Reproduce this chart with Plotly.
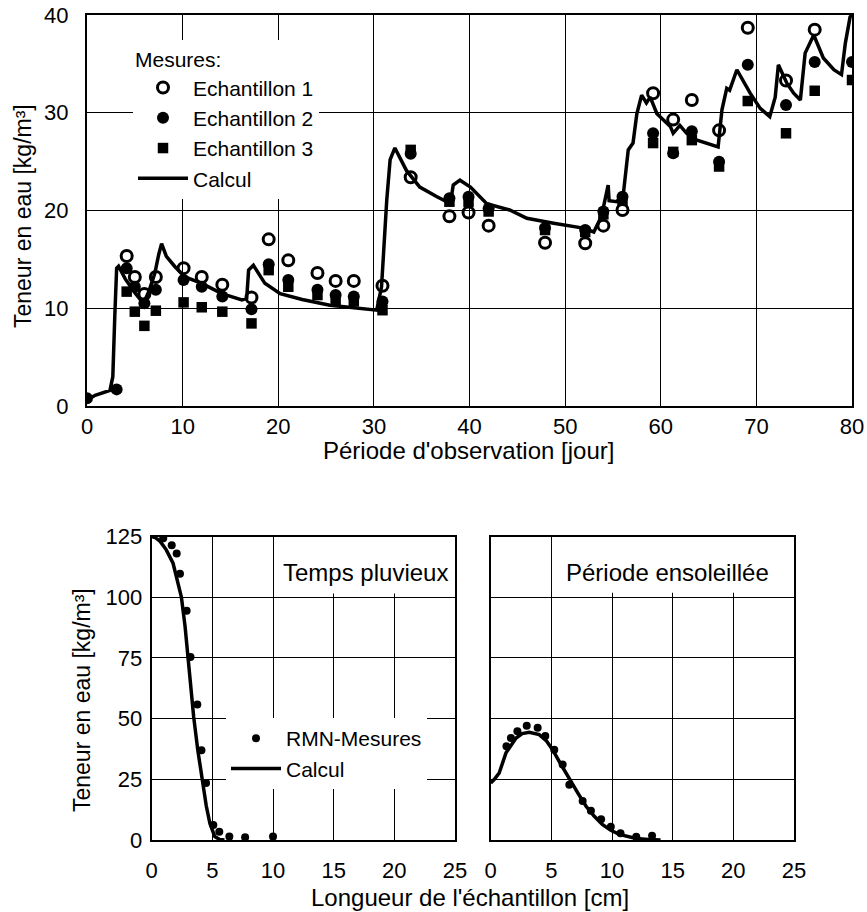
import plotly.graph_objects as go

# ---------------- Top chart data ----------------
calc_x = [0, 0.85, 2.4, 2.7, 2.9, 3.1, 3.3, 4.0, 5.0, 5.9, 6.5, 7.1, 7.5, 7.8, 8.3, 9.2, 10.25, 12.0, 14.1,
          16.2, 16.7, 16.9, 17.4, 18.6, 20.2, 22.5, 25.4, 28.0, 30.3, 30.8, 31.35, 31.7, 32.2, 33.4, 34.8,
          36.6, 38.0, 38.3, 39.0, 40.1, 41.8, 44.2, 46.0, 48.8, 51.9, 53.0, 53.8, 54.5, 54.6, 55.4, 56.1,
          56.6, 57.1, 57.5, 58.0, 58.5, 58.9, 59.6, 61.0, 61.3, 62.0, 62.7, 63.8, 66.0, 66.4, 66.9, 67.2,
          67.96, 69.35, 70.4, 71.4, 71.97, 72.3, 73.2, 73.9, 74.6, 75.1, 76.0, 77.0, 78.1, 78.9, 79.3, 79.8, 80]
calc_y = [0.6, 1.1, 1.6, 3.0, 9.0, 14.1, 14.3, 13.0, 11.6, 10.5, 11.8, 13.6, 15.5, 16.6, 15.3, 14.25, 13.2, 12.55, 11.5,
          10.85, 11.0, 13.9, 14.4, 12.55, 11.5, 10.9, 10.3, 10.0, 9.8, 12.2, 21.1, 25.2, 26.4, 24.1, 22.4,
          21.4, 20.7, 22.6, 23.1, 22.4, 20.7, 20.05, 19.2, 18.7, 18.2, 17.8, 19.4, 22.6, 21.0, 20.9, 21.8,
          26.2, 26.9, 29.9, 31.8, 31.0, 31.6, 29.9, 28.6, 27.9, 28.7, 27.9, 27.2, 26.5, 30.3, 32.5, 32.3,
          34.4, 32.0, 30.45, 29.6, 31.6, 34.9, 33.0, 32.0, 31.3, 36.1, 37.95, 35.6, 34.4, 33.9, 37.1, 39.8, 40.0]

ech_x = [0, 3.1, 4.15, 5.0, 6.0, 7.2, 10.1, 12.0, 14.15, 17.2, 19.0, 21.05, 24.1, 26.0, 27.9, 30.9, 33.85,
         37.9, 39.9, 42.0, 47.9, 52.1, 54.0, 56.0, 59.2, 61.3, 63.25, 66.1, 69.1, 73.1, 76.1, 80]
ech1_y = [None, None, 15.35, 13.2, 11.45, 13.2, 14.1, 13.2, 12.4, 11.1, 17.05, 14.9, 13.6, 12.8, 12.8, 12.3, 23.4,
          19.4, 19.8, 18.45, 16.7, 16.65, 18.45, 20.05, 32.0, 29.3, 31.3, 28.2, 38.7, 33.3, 38.5, None]
ech2_y = [0.8, 1.7, 14.1, 12.2, 10.5, 11.9, 12.9, 12.2, 11.2, 9.9, 14.5, 12.9, 11.9, 11.35, 11.2, 10.7, 25.8,
          21.25, 21.4, 20.2, 18.2, 18.0, 19.9, 21.4, 27.9, 25.85, 28.1, 25.0, 34.9, 30.8, 35.2, 35.2]
ech3_y = [None, None, 11.7, 9.65, 8.2, 9.75, 10.6, 10.1, 9.65, 8.45, 13.9, 12.2, 11.35, 10.85, 10.7, 9.8, 26.2,
          20.9, 20.9, 19.9, 18.0, 17.8, 19.6, 21.0, 26.9, 26.0, 27.2, 24.5, 31.2, 27.9, 32.25, 33.35]

top_xticks = [0, 10, 20, 30, 40, 50, 60, 70, 80]
top_yticks = [0, 10, 20, 30, 40]

# ---------------- Bottom-left (Temps pluvieux) ----------------
rain_calc_x = [0, 0.3, 0.7, 1.2, 1.76, 2.1, 2.45, 2.75, 3.0, 3.25, 3.46, 3.8, 4.1, 4.5, 4.8, 5.2, 5.6, 6.0]
rain_calc_y = [125, 124.5, 123, 119.5, 114, 107, 100, 88, 75, 62, 50.7, 37, 26, 14, 6.8, 1.4, 0.2, 0]
rain_rmn_x = [0.95, 1.65, 2.06, 2.33, 2.88, 3.2, 3.76, 4.1, 4.48, 5.08, 5.57, 6.4, 7.7, 10.0]
rain_rmn_y = [124.3, 121.4, 118.0, 109.7, 94.4, 75.4, 55.8, 37.0, 23.5, 6.2, 3.4, 1.4, 1.1, 1.4]

# ---------------- Bottom-right (Période ensoleillée) ----------------
sun_calc_x = [0, 0.3, 0.7, 1.26, 2.09, 2.6, 3.18, 4.0, 4.6, 5.1, 5.8, 6.5, 7.2, 7.86, 8.5, 9.2, 9.9, 10.6, 12.0, 13.0, 14.0]
sun_calc_y = [23.5, 25, 27.6, 35.9, 42.0, 43.8, 44.4, 43.4, 40.8, 37.2, 31, 24.9, 19.2, 13.9, 10, 6.4, 4, 2.3, 0.6, 0.2, 0]
sun_rmn_x = [1.3, 1.67, 2.2, 2.97, 3.87, 4.5, 5.24, 5.93, 6.48, 7.58, 8.26, 9.1, 9.9, 10.7, 12.0, 13.3]
sun_rmn_y = [38.6, 42.0, 44.8, 47.1, 46.2, 42.8, 37.2, 31.1, 22.8, 16.1, 12.0, 8.5, 5.5, 2.8, 1.3, 1.8]

bot_xticks = [0, 5, 10, 15, 20, 25]
bot_yticks = [0, 25, 50, 75, 100, 125]

FONT = "Arial, Liberation Sans, sans-serif"
FS_TICK = 22
FS_TXT = 24
FS_VT = 23
FS_LEG = 21
W, H = 867, 912


def fx(px):
    return px / W


def fy(py):
    return 1 - py / H


fig = go.Figure()

# top traces
fig.add_trace(go.Scatter(x=calc_x, y=calc_y, mode="lines", name="Calcul", legendrank=4,
                         line=dict(color="black", width=3.5), xaxis="x", yaxis="y"))
fig.add_trace(go.Scatter(x=ech_x, y=ech1_y, mode="markers", name="Echantillon 1", legendrank=1,
                         marker=dict(symbol="circle-open", size=11, color="black", line=dict(width=3, color="black")),
                         xaxis="x", yaxis="y"))
fig.add_trace(go.Scatter(x=ech_x, y=ech2_y, mode="markers", name="Echantillon 2", legendrank=2,
                         marker=dict(symbol="circle", size=12, color="black"), xaxis="x", yaxis="y"))
fig.add_trace(go.Scatter(x=ech_x, y=ech3_y, mode="markers", name="Echantillon 3", legendrank=3,
                         marker=dict(symbol="square", size=10.5, color="black"), xaxis="x", yaxis="y"))

# bottom-left traces
fig.add_trace(go.Scatter(x=rain_calc_x, y=rain_calc_y, mode="lines", name="Calcul", legend="legend2", legendrank=2,
                         line=dict(color="black", width=3.5), xaxis="x2", yaxis="y2"))
fig.add_trace(go.Scatter(x=rain_rmn_x, y=rain_rmn_y, mode="markers", name="RMN-Mesures", legend="legend2", legendrank=1,
                         marker=dict(symbol="circle", size=8, color="black"), xaxis="x2", yaxis="y2"))
# bottom-right traces
fig.add_trace(go.Scatter(x=sun_calc_x, y=sun_calc_y, mode="lines", showlegend=False,
                         line=dict(color="black", width=3.5), xaxis="x3", yaxis="y3"))
fig.add_trace(go.Scatter(x=sun_rmn_x, y=sun_rmn_y, mode="markers", showlegend=False,
                         marker=dict(symbol="circle", size=8, color="black"), xaxis="x3", yaxis="y3"))

ax_common = dict(showline=True, linecolor="black", linewidth=2, mirror=True, showgrid=True,
                 gridcolor="black", gridwidth=1, zeroline=False, ticks="", automargin=False,
                 ticklabeloverflow="allow",
                 tickfont=dict(family=FONT, size=FS_TICK, color="black"))

fig.update_layout(
    width=W, height=H, margin=dict(l=0, r=0, t=0, b=0, autoexpand=False),
    paper_bgcolor="white", plot_bgcolor="white",
    font=dict(family=FONT, size=FS_TXT, color="black"),
    xaxis=dict(domain=[fx(87), fx(852)], range=[0, 80], tickvals=top_xticks, anchor="y",
               ticklabelstandoff=0, **ax_common),
    yaxis=dict(domain=[fy(406), fy(15)], range=[0, 40], tickvals=top_yticks, anchor="x",
               ticklabelstandoff=12, **ax_common),
    xaxis2=dict(domain=[fx(151.7), fx(455)], range=[0, 25], tickvals=bot_xticks, anchor="y2",
                ticklabelstandoff=10, **ax_common),
    yaxis2=dict(domain=[fy(840), fy(536.5)], range=[0, 125], tickvals=bot_yticks, anchor="x2",
                ticklabelstandoff=3, **ax_common),
    xaxis3=dict(domain=[fx(490.7), fx(794)], range=[0, 25], tickvals=bot_xticks, anchor="y3",
                ticklabelstandoff=10, **ax_common),
    yaxis3=dict(domain=[fy(840), fy(536.5)], range=[0, 125], tickvals=bot_yticks, anchor="x3",
                showticklabels=False, **ax_common),
    legend=dict(x=fx(133), y=fy(40), xanchor="left", yanchor="top", bgcolor="white",
                title=dict(text="Mesures:", font=dict(family=FONT, size=FS_LEG)),
                font=dict(family=FONT, size=FS_LEG), itemwidth=50, tracegroupgap=0),
    legend2=dict(x=fx(226), y=fy(718), xanchor="left", yanchor="top", bgcolor="white",
                 font=dict(family=FONT, size=FS_LEG), itemwidth=50),
    showlegend=True,
)

# white boxes behind in-plot labels (cover gridlines only)
fig.add_shape(type="rect", xref="x2", yref="y2", x0=10.3, x1=25, y0=101.5, y1=125,
              fillcolor="white", line=dict(width=0), layer="between")
fig.add_shape(type="rect", xref="x3", yref="y3", x0=5.05, x1=25, y0=101.8, y1=125,
              fillcolor="white", line=dict(width=0), layer="between")


def ann(text, x, y, size=FS_TXT, angle=0):
    fig.add_annotation(text=text, xref="paper", yref="paper", x=fx(x), y=fy(y),
                       xanchor="center", yanchor="middle", textangle=angle, showarrow=False,
                       font=dict(family=FONT, size=size, color="black"))


ann("Temps pluvieux", 365, 572)
ann("Période ensoleillée", 667, 572)
ann("Teneur en eau [kg/m³]", 23, 216, FS_VT, -90)
ann("Période d'observation [jour]", 468, 450)
ann("Teneur en eau [kg/m³]", 82, 700, FS_VT, -90)
ann("Longueur de l'échantillon [cm]", 470, 897)

# remove the browser's default 8 px body margin so the figure fills the window exactly
fig.write_html("out.html", config={"displayModeBar": False},
               post_script="document.body.style.margin='0px';document.body.style.overflow='hidden';")
